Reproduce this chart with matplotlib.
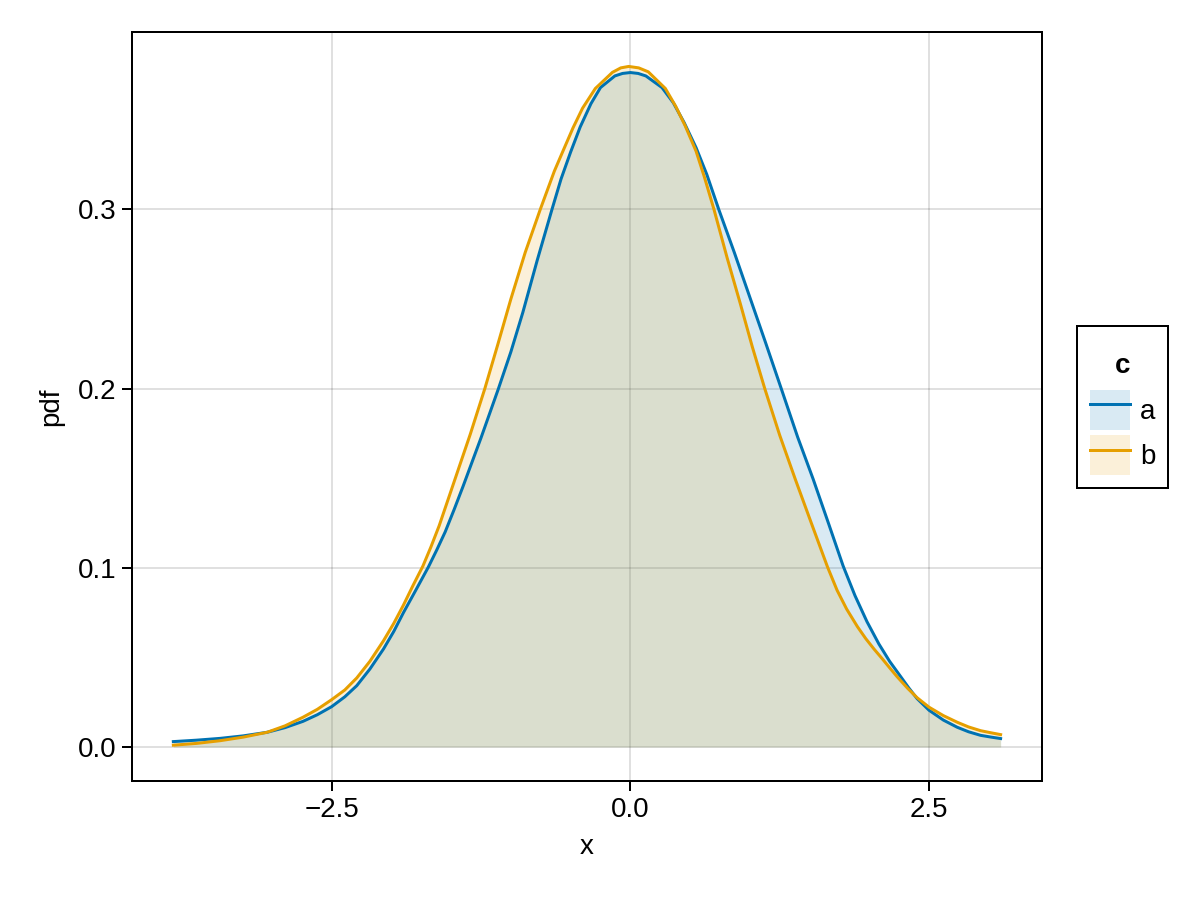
import numpy as np
import matplotlib
matplotlib.use("Agg")
import matplotlib.pyplot as plt
from matplotlib.patches import Patch
from matplotlib.lines import Line2D

# density curves (group a = blue, group b = orange)
x_a = [-3.825, -3.63, -3.434, -3.24, -3.04, -2.89, -2.74, -2.62, -2.5, -2.39,
       -2.29, -2.18, -2.066, -1.98, -1.899, -1.80, -1.69, -1.62, -1.55, -1.475,
       -1.40, -1.25, -1.104, -1.0, -0.9, -0.78, -0.656, -0.58, -0.5, -0.42,
       -0.33, -0.25, -0.13, -0.065, 0.0, 0.065, 0.13, 0.265, 0.36, 0.45,
       0.55, 0.64, 0.74, 0.87, 1.0, 1.13, 1.263, 1.40, 1.53, 1.66,
       1.781, 1.88, 1.98, 2.08, 2.17, 2.26, 2.33, 2.40, 2.5, 2.62,
       2.736, 2.83, 2.931, 3.02, 3.099]
pdf_a = [0.0030, 0.0038, 0.0048, 0.0062, 0.0082, 0.0108, 0.0143, 0.0180, 0.0225, 0.0280,
         0.0342, 0.0435, 0.0547, 0.0645, 0.0750, 0.0870, 0.1005, 0.1100, 0.1200, 0.1325,
         0.1455, 0.1725, 0.2000, 0.2205, 0.2425, 0.2715, 0.3000, 0.3170, 0.3320, 0.3460,
         0.3590, 0.3680, 0.3745, 0.3759, 0.3764, 0.3759, 0.3745, 0.3680, 0.3595, 0.3485,
         0.3345, 0.3195, 0.3000, 0.2760, 0.2510, 0.2260, 0.2000, 0.1730, 0.1495, 0.1245,
         0.1010, 0.0845, 0.0700, 0.0575, 0.0478, 0.0395, 0.0330, 0.0270, 0.0205, 0.0150,
         0.0110, 0.0085, 0.0065, 0.0055, 0.0047]

x_b = [-3.825, -3.63, -3.434, -3.24, -3.04, -2.89, -2.74, -2.62, -2.5, -2.39,
       -2.29, -2.18, -2.066, -1.98, -1.899, -1.82, -1.736, -1.67, -1.60, -1.47,
       -1.34, -1.218, -1.11, -1.0, -0.88, -0.754, -0.636, -0.558, -0.48, -0.40,
       -0.293, -0.15, -0.08, -0.014, 0.07, 0.15, 0.293, 0.38, 0.46, 0.55,
       0.62, 0.70, 0.81, 0.92, 1.02, 1.125, 1.25, 1.38, 1.52, 1.65,
       1.73, 1.81, 1.90, 1.97, 2.04, 2.11, 2.17, 2.233, 2.32, 2.40,
       2.5, 2.62, 2.736, 2.83, 2.931, 3.02, 3.099]
pdf_b = [0.0010, 0.0020, 0.0035, 0.0055, 0.0082, 0.0118, 0.0166, 0.0210, 0.0264, 0.0318,
         0.0385, 0.0478, 0.0593, 0.0690, 0.0792, 0.0900, 0.1010, 0.1115, 0.1235, 0.1490,
         0.1745, 0.2000, 0.2245, 0.2500, 0.2760, 0.3000, 0.3214, 0.3335, 0.3455, 0.3565,
         0.3675, 0.3765, 0.3790, 0.3798, 0.3790, 0.3768, 0.3675, 0.3575, 0.3465, 0.3325,
         0.3180, 0.3000, 0.2730, 0.2475, 0.2235, 0.2000, 0.1740, 0.1495, 0.1240, 0.1005,
         0.0875, 0.0770, 0.0672, 0.0605, 0.0546, 0.0491, 0.0442, 0.0392, 0.0328, 0.0275,
         0.0222, 0.0175, 0.0138, 0.0112, 0.0091, 0.0079, 0.0069]

groups = ["a", "b"]
colors = ["#0072B2", "#E69F00"]
xticks = [-2.5, 0.0, 2.5]
yticks = [0.0, 0.1, 0.2, 0.3]

plt.rcParams["font.family"] = ["Liberation Sans", "DejaVu Sans"]
plt.rcParams["font.size"] = 20

fig = plt.figure(figsize=(12, 9), dpi=100)
ax = fig.add_axes([0.11, 0.1322, 0.7583, 0.8322])

handles = []
for xs, ys, c in [(x_a, pdf_a, colors[0]), (x_b, pdf_b, colors[1])]:
    ax.fill_between(xs, 0, ys, color=c, alpha=0.15, lw=0, zorder=2)
    ax.plot(xs, ys, color=c, lw=2.16, zorder=3, solid_joinstyle="round")
    handles.append((Patch(facecolor=c, alpha=0.15, edgecolor="none"),
                    Line2D([], [], color=c, lw=2.16)))

ax.set_xlim(-4.171, 3.445)
ax.set_ylim(-0.019, 0.399)
ax.set_xticks(xticks)
ax.set_xticklabels([f"{t:.1f}".replace("-", "\u2212") for t in xticks])
ax.set_yticks(yticks)
ax.set_yticklabels([f"{t:.1f}" for t in yticks])
ax.grid(True, color="black", alpha=0.12, lw=1.44, zorder=0)
ax.set_axisbelow(True)
for s in ax.spines.values():
    s.set_linewidth(1.44)
ax.tick_params(direction="out", length=7.2, width=1.44, pad=4, labelsize=20)
ax.set_xlabel("x", fontsize=20, labelpad=8)
ax.set_ylabel("pdf", fontsize=20, labelpad=10)

# empty first title line with tight line spacing pushes the bold "c" down a bit
leg = fig.legend(handles, groups, title="\nc", loc="center",
                 bbox_to_anchor=(0.9354, 0.5478), fontsize=20,
                 title_fontproperties={"weight": "bold", "size": 20},
                 handlelength=1.44, handleheight=1.84, handletextpad=0.36,
                 labelspacing=0.18, borderpad=0.45, fancybox=False,
                 edgecolor="black", framealpha=1)
leg.get_frame().set_linewidth(1.44)
leg.get_title().set_linespacing(0.4)
leg._legend_box.sep = 8

fig.savefig("out.png", dpi=100)
